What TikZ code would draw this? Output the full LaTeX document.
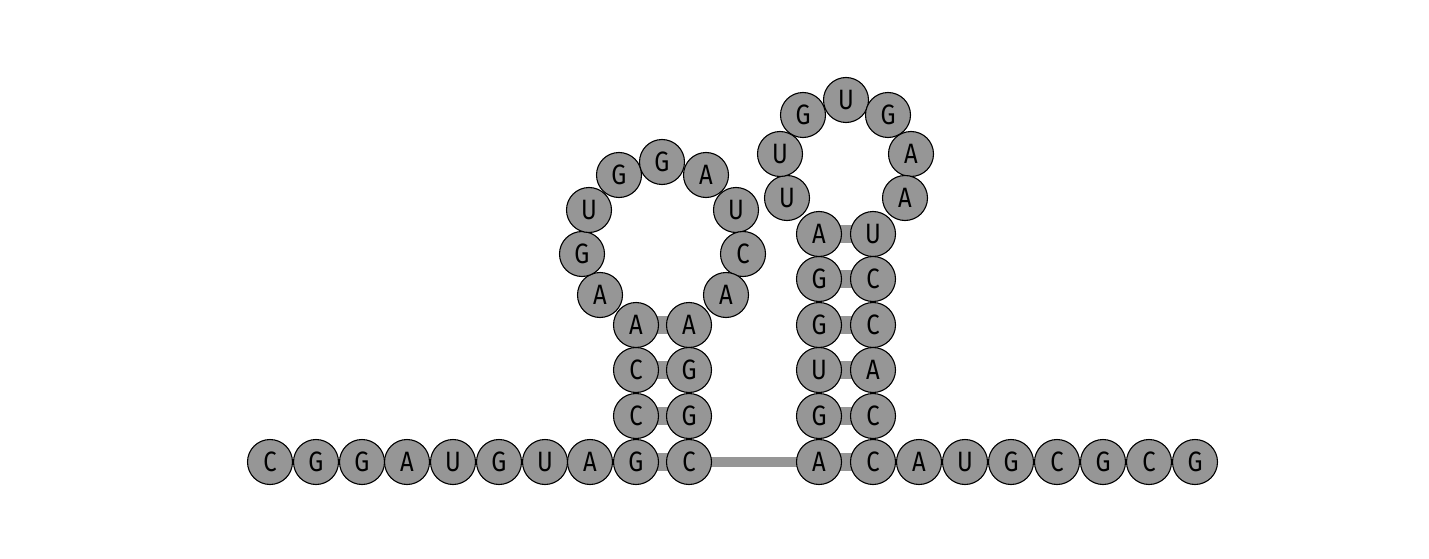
\documentclass[tikz,border=0pt]{standalone}
\usepackage{fontspec}
\setmainfont[FakeStretch=0.85]{Fira Sans}
\usetikzlibrary{backgrounds}
\definecolor{nucfill}{RGB}{150,150,150}
\tikzset{
  nuc/.style={circle, draw=black, line width=1.1pt, fill=nucfill, minimum size=45pt, inner sep=0pt, font=\fontsize{28}{28}\selectfont},
  pairbar/.style={draw=nucfill, line width=18pt},
  linkbar/.style={draw=nucfill, line width=10pt}
}
\begin{document}
\begin{tikzpicture}[x=1pt,y=-1pt]
\useasboundingbox (0,0) rectangle (1429,559);
% bottom left strand
\node[nuc] (n1) at (270,462) {C};
\node[nuc] (n2) at (316,462) {G};
\node[nuc] (n3) at (362,462) {G};
\node[nuc] (n4) at (407,462) {A};
\node[nuc] (n5) at (453,462) {U};
\node[nuc] (n6) at (499,462) {G};
\node[nuc] (n7) at (545,462) {U};
\node[nuc] (n8) at (590,462) {A};
\node[nuc] (n9) at (636,462) {G};
% left stem (5' side)
\node[nuc] (n10) at (636,416) {C};
\node[nuc] (n11) at (636,370) {C};
\node[nuc] (n12) at (636,325) {A};
% left loop
\node[nuc] (n13) at (600,295) {A};
\node[nuc] (n14) at (582,254) {G};
\node[nuc] (n15) at (589,210) {U};
\node[nuc] (n16) at (619,175) {G};
\node[nuc] (n17) at (662,162) {G};
\node[nuc] (n18) at (706,175) {A};
\node[nuc] (n19) at (736,210) {U};
\node[nuc] (n20) at (743,254) {C};
\node[nuc] (n21) at (726,295) {A};
% left stem (3' side)
\node[nuc] (n22) at (689,325) {A};
\node[nuc] (n23) at (689,370) {G};
\node[nuc] (n24) at (689,416) {G};
\node[nuc] (n25) at (689,462) {C};
% right stem (5' side)
\node[nuc] (n26) at (819,462) {A};
\node[nuc] (n27) at (819,416) {G};
\node[nuc] (n28) at (819,370) {U};
\node[nuc] (n29) at (819,325) {G};
\node[nuc] (n30) at (819,279) {G};
\node[nuc] (n31) at (819,234) {A};
% right loop
\node[nuc] (n32) at (787,198) {U};
\node[nuc] (n33) at (780,154) {U};
\node[nuc] (n34) at (803,115) {G};
\node[nuc] (n35) at (846,100) {U};
\node[nuc] (n36) at (888,115) {G};
\node[nuc] (n37) at (911,154) {A};
\node[nuc] (n38) at (905,198) {A};
% right stem (3' side)
\node[nuc] (n39) at (873,234) {U};
\node[nuc] (n40) at (873,279) {C};
\node[nuc] (n41) at (873,325) {C};
\node[nuc] (n42) at (873,370) {A};
\node[nuc] (n43) at (873,416) {C};
\node[nuc] (n44) at (873,462) {C};
% bottom right strand
\node[nuc] (n45) at (919,462) {A};
\node[nuc] (n46) at (965,462) {U};
\node[nuc] (n47) at (1011,462) {G};
\node[nuc] (n48) at (1057,462) {C};
\node[nuc] (n49) at (1103,462) {G};
\node[nuc] (n50) at (1149,462) {C};
\node[nuc] (n51) at (1195,462) {G};
\begin{scope}[on background layer]
\draw[pairbar] (n12.center) -- (n22.center);
\draw[pairbar] (n11.center) -- (n23.center);
\draw[pairbar] (n10.center) -- (n24.center);
\draw[pairbar] (n9.center) -- (n25.center);
\draw[pairbar] (n31.center) -- (n39.center);
\draw[pairbar] (n30.center) -- (n40.center);
\draw[pairbar] (n29.center) -- (n41.center);
\draw[pairbar] (n28.center) -- (n42.center);
\draw[pairbar] (n27.center) -- (n43.center);
\draw[pairbar] (n26.center) -- (n44.center);
\draw[linkbar] (n25.center) -- (n26.center);
\end{scope}
\end{tikzpicture}
\end{document}
